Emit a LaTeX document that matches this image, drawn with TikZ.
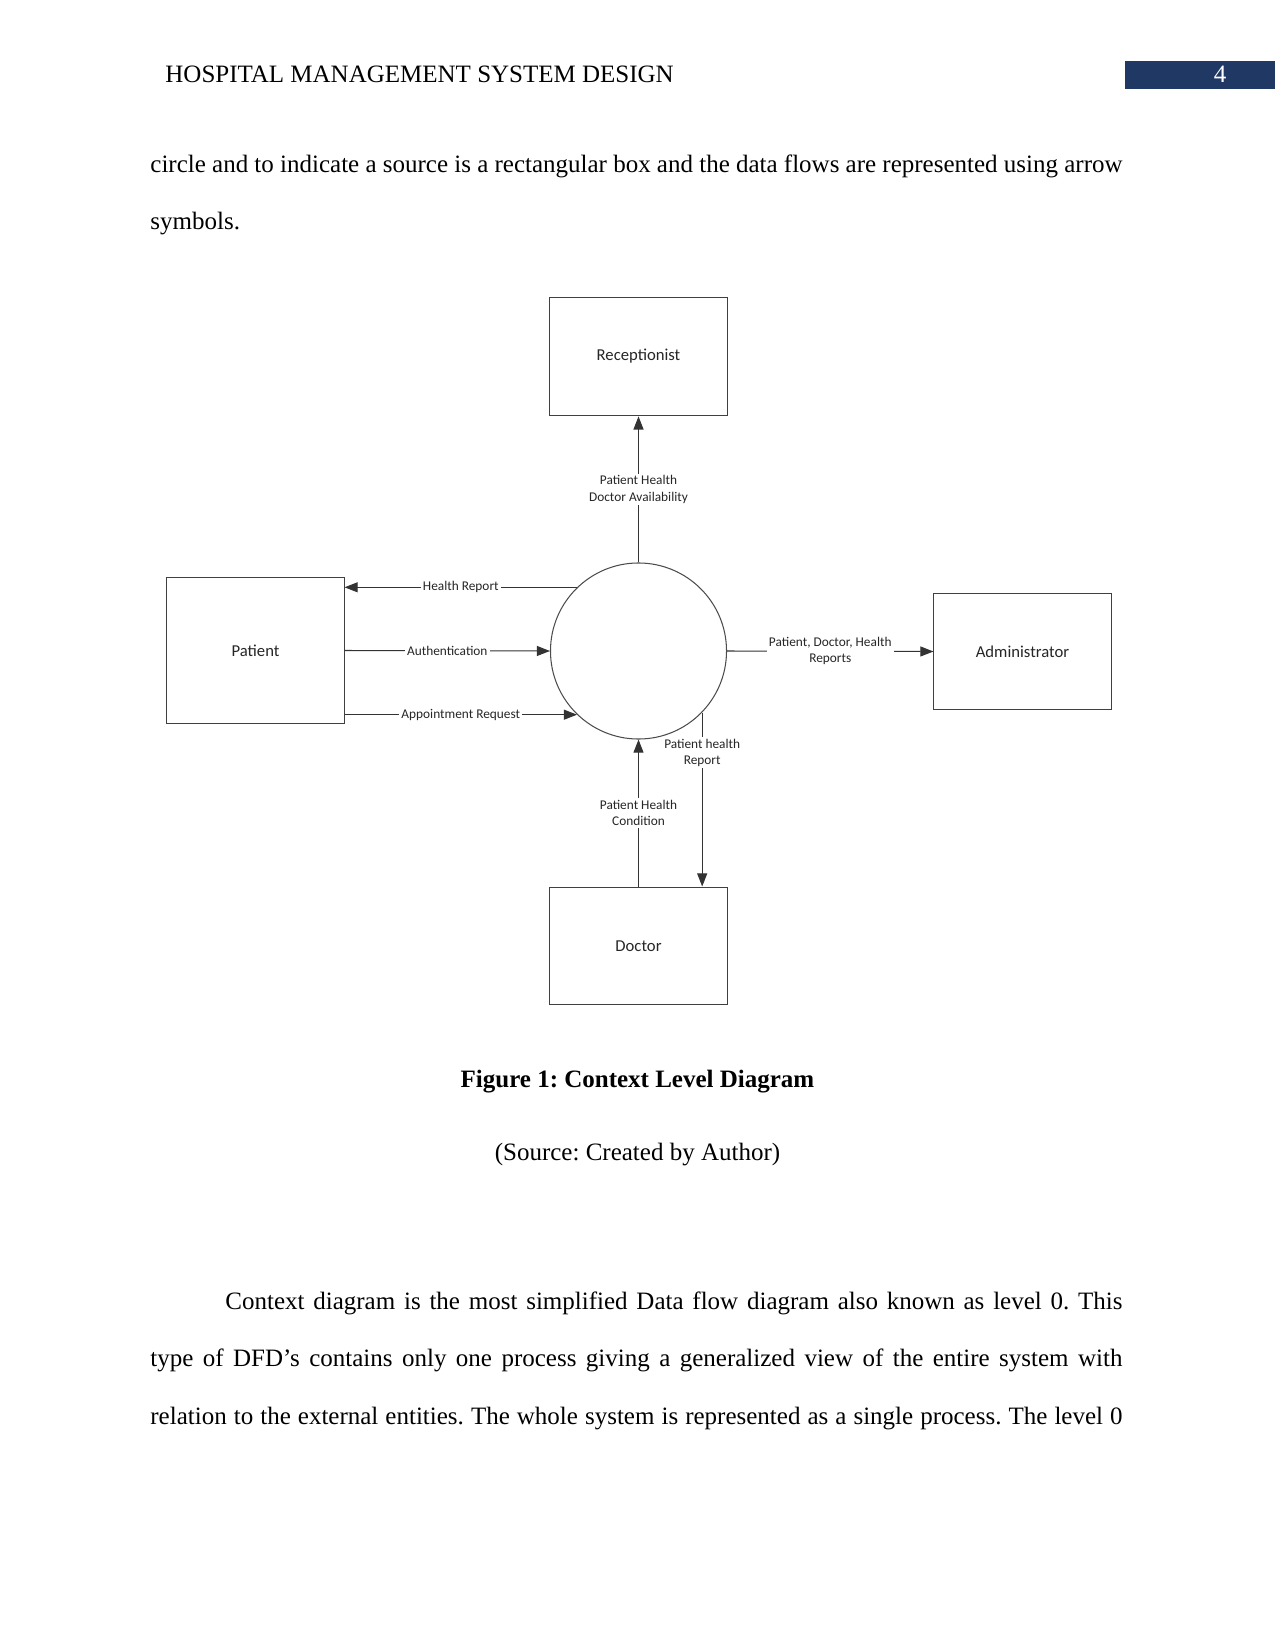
\documentclass[tikz,border=0pt]{standalone}
\usepackage{fontspec}
\setmainfont{Liberation Serif}
\newfontfamily\dfdfont{Carlito}
\usetikzlibrary{arrows.meta}
\definecolor{hdrblue}{RGB}{31,56,100}
\frenchspacing
\begin{document}
\begin{tikzpicture}[x=0.48pt,y=-0.48pt,
  entity/.style={draw=black!75, line width=0.5pt, minimum width=85pt, inner sep=0pt, text=black!85, font=\dfdfont\fontsize{8}{9.5}\selectfont},
  process/.style={circle, draw=black!70, line width=0.5pt, minimum size=84.5pt, inner sep=0pt},
  flow/.style={draw=black!80, line width=0.5pt, -{Triangle[length=6.3pt,width=4.8pt]}},
  flowlab/.style={fill=white, inner sep=1pt, align=center, text=black!85, font=\dfdfont\fontsize{6.4}{7.7}\selectfont},
  body/.style={anchor=base west, inner sep=0pt, font=\fontsize{12}{14}\selectfont},
  cbody/.style={anchor=base, inner sep=0pt, font=\fontsize{12}{14}\selectfont}]
\path[use as bounding box, fill=white] (0,0) rectangle (1275,1650);

% header
\node[body] (hdr) at (165,83) {HOSPITAL MANAGEMENT SYSTEM DESIGN};
\node[fill=hdrblue, minimum width=72pt, minimum height=13.4pt, anchor=north west, inner sep=0pt] (pgbox) at (1125,61) {};
\node[cbody, text=white] (pgnum) at (1220,83) {4};

% text above
\node[body] (t1) at (150,173) {\makebox[466.6pt][s]{circle and to indicate a source is a rectangular box and the data flows are represented using arrow}};
\node[body] (t2) at (150,230) {symbols.};

% diagram
\node[entity, minimum height=57pt] (rec) at (638.5,356.5) {Receptionist};
\node[process] (proc) at (638.5,651) {};
\node[entity, minimum height=70.5pt] (pat) at (255.5,650.5) {Patient};
\node[entity, minimum height=56pt] (adm) at (1022.5,651.5) {Administrator};
\node[entity, minimum height=56.6pt] (doc) at (638.5,946) {Doctor};

\draw[flow] (proc.north) -- node[flowlab]{Patient Health\\Doctor Availability} (rec.south);
\draw[flow] (proc.134) -- node[flowlab]{Health Report} (pat.east |- proc.134);
\draw[flow] (pat.east) -- node[flowlab]{Authentication} (proc.west);
\draw[flow] (pat.east |- proc.226) -- node[flowlab]{Appointment Request} (proc.226);
\draw[flow] (proc.east) -- node[flowlab]{Patient, Doctor, Health\\Reports} (adm.west);
\draw[flow] (doc.north) -- node[flowlab]{Patient Health\\Condition} (proc.south);
\draw[flow] (proc.316) -- node[flowlab, pos=0.23]{Patient health\\Report} (proc.316 |- doc.north);

% caption
\node[cbody, font=\bfseries\fontsize{12}{14}\selectfont] (cap) at (637.5,1087) {Figure 1: Context Level Diagram};
\node[cbody] (src) at (637.5,1160) {(Source: Created by Author)};

% paragraph
\node[body] (p1) at (225,1309) {\makebox[430.6pt][s]{Context diagram is the most simplified Data flow diagram also known as level 0. This}};
\node[body] (p2) at (150,1366) {\makebox[466.6pt][s]{type of DFD’s contains only one process giving a generalized view of the entire system with}};
\node[body] (p3) at (150,1424) {\makebox[466.6pt][s]{relation to the external entities. The whole system is represented as a single process. The level 0}};
\end{tikzpicture}
\end{document}
